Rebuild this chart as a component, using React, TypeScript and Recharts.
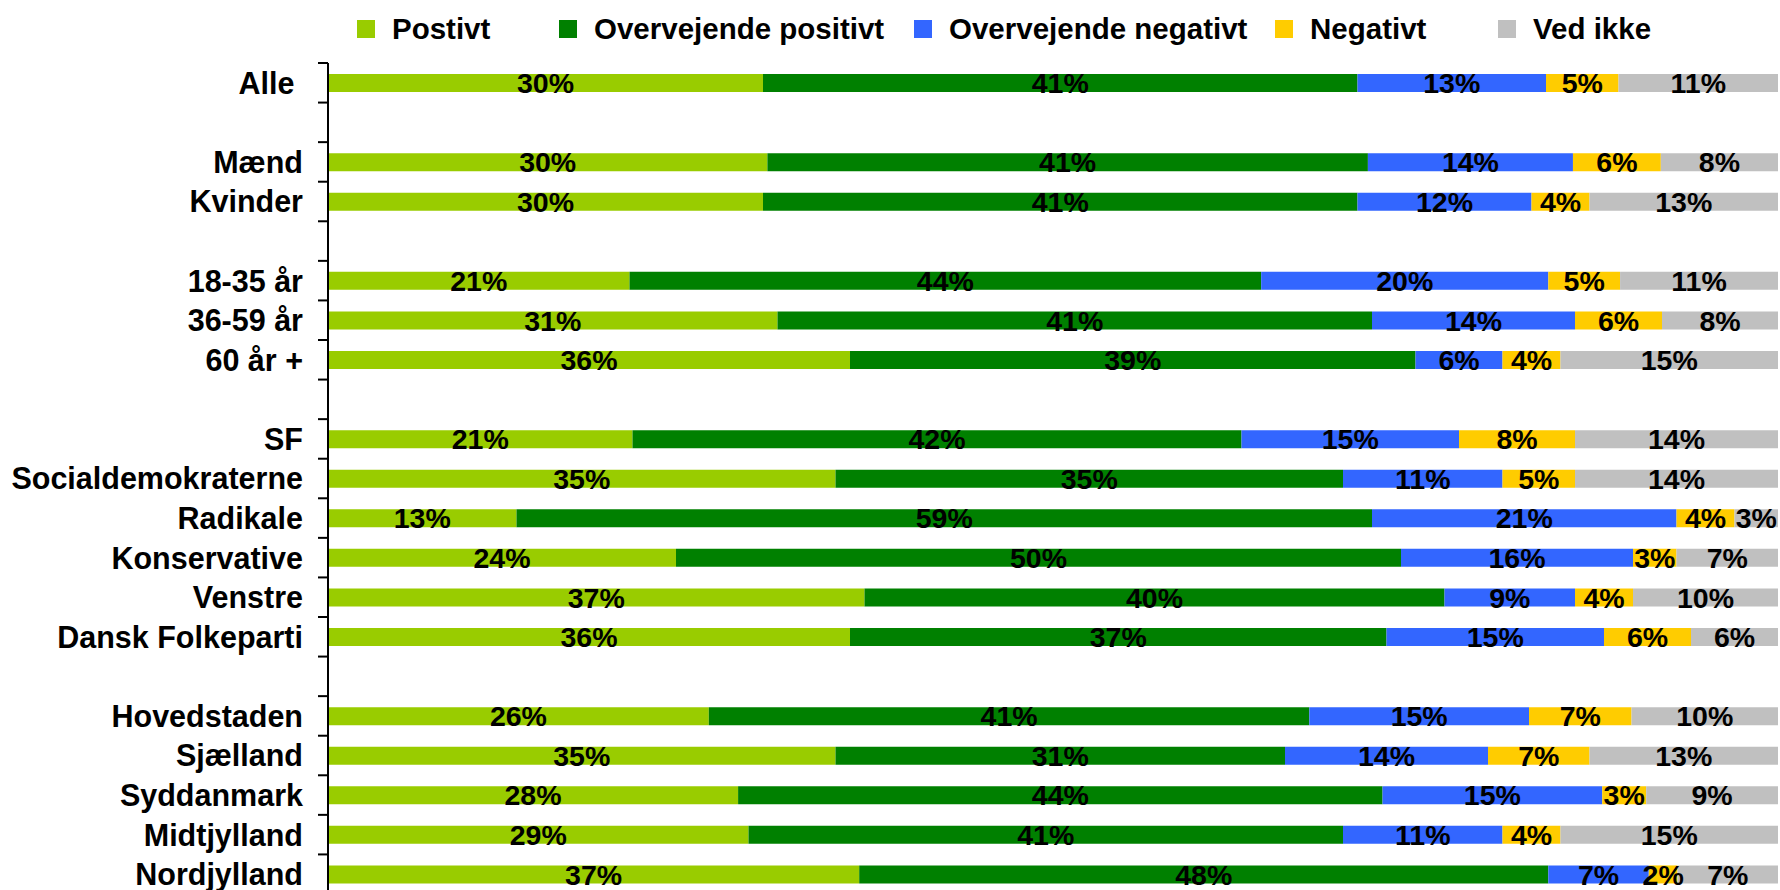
import { Bar, BarChart, LabelList, XAxis, YAxis } from "recharts";

const categories = [
  "Alle ", " ", "Mænd", "Kvinder", "  ", "18-35 år", "36-59 år", "60 år +", "   ",
  "SF", "Socialdemokraterne", "Radikale", "Konservative", "Venstre", "Dansk Folkeparti", "    ",
  "Hovedstaden", "Sjælland", "Syddanmark", "Midtjylland", "Nordjylland",
];

const positivt = [30, null, 30, 30, null, 21, 31, 36, null, 21, 35, 13, 24, 37, 36, null, 26, 35, 28, 29, 37];
const overvejendePositivt = [41, null, 41, 41, null, 44, 41, 39, null, 42, 35, 59, 50, 40, 37, null, 41, 31, 44, 41, 48];
const overvejendeNegativt = [13, null, 14, 12, null, 20, 14, 6, null, 15, 11, 21, 16, 9, 15, null, 15, 14, 15, 11, 7];
const negativt = [5, null, 6, 4, null, 5, 6, 4, null, 8, 5, 4, 3, 4, 6, null, 7, 7, 3, 4, 2];
const vedIkke = [11, null, 8, 13, null, 11, 8, 15, null, 14, 14, 3, 7, 10, 6, null, 10, 13, 9, 15, 7];

const series = [
  { key: "p", name: "Postivt", color: "#99CC00", values: positivt },
  { key: "op", name: "Overvejende positivt", color: "#008000", values: overvejendePositivt },
  { key: "on", name: "Overvejende negativt", color: "#3366FF", values: overvejendeNegativt },
  { key: "n", name: "Negativt", color: "#FFCC00", values: negativt },
  { key: "v", name: "Ved ikke", color: "#C0C0C0", values: vedIkke },
];

const data = categories.map((name, i) => {
  const row: Record<string, string | number | null> = { name };
  series.forEach((s) => (row[s.key] = s.values[i]));
  return row;
});

const FONT = '"Liberation Sans", Arial, sans-serif';
const AXIS_X = 328;
const PLOT_TOP = 63;
const PLOT_H = 831;
const CHART_H = 900;
const BAND = PLOT_H / categories.length;
// left edge of each legend swatch
const legendX = [357, 559, 914, 1275, 1498];

function CategoryTick(props: any) {
  const { y, payload } = props;
  return (
    <g>
      <line x1={AXIS_X - 10} x2={AXIS_X} y1={y - BAND / 2} y2={y - BAND / 2} stroke="#000" strokeWidth={2} />
      <text
        x={AXIS_X - 25}
        y={y}
        dy="0.36em"
        textAnchor="end"
        fill="#000"
        fontSize={30.5}
        fontWeight="bold"
        fontFamily={FONT}
        style={{ whiteSpace: "pre" }}
      >
        {payload.value}
      </text>
    </g>
  );
}

export default function App() {
  return (
    <div style={{ position: "fixed", left: 0, top: 0, width: 1780, height: 890, overflow: "hidden", background: "#fff" }}>
      {series.map((s, i) => (
        <div
          key={s.key}
          style={{
            position: "absolute",
            left: legendX[i],
            top: 9,
            display: "flex",
            alignItems: "center",
            height: 40,
            fontFamily: FONT,
            fontWeight: "bold",
            fontSize: 29.5,
            color: "#000",
            whiteSpace: "nowrap",
          }}
        >
          <span style={{ width: 18, height: 18, background: s.color, marginRight: 17, display: "inline-block" }} />
          {s.name}
        </div>
      ))}
      <BarChart
        width={1780}
        height={CHART_H}
        data={data}
        layout="vertical"
        stackOffset="expand"
        barSize={18}
        margin={{ top: PLOT_TOP, right: 2, bottom: CHART_H - PLOT_TOP - PLOT_H, left: 0 }}
      >
        <XAxis type="number" hide domain={[0, 1]} />
        <YAxis
          type="category"
          dataKey="name"
          width={AXIS_X}
          axisLine={{ stroke: "#000", strokeWidth: 2 }}
          tickLine={false}
          tick={<CategoryTick />}
          interval={0}
        />
        {series.map((s) => (
          <Bar key={s.key} dataKey={s.key} name={s.name} stackId="a" fill={s.color} isAnimationActive={false}>
            <LabelList
              dataKey={s.key}
              position="center"
              fill="#000"
              fontSize={28.5}
              fontWeight="bold"
              fontFamily={FONT}
              formatter={(v: any) => (v == null ? "" : `${v}%`)}
            />
          </Bar>
        ))}
      </BarChart>
    </div>
  );
}
